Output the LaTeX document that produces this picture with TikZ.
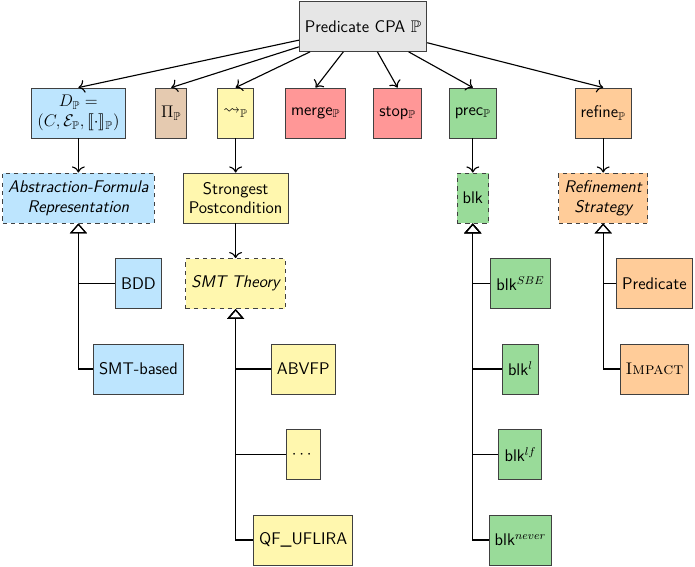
\documentclass[tikz,border=0pt]{standalone}
\usepackage{amsmath,amssymb,stmaryrd}
\usepackage{xcolor}
\usetikzlibrary{arrows.meta}

\definecolor{cpagray}{HTML}{E6E6E6}
\definecolor{domblue}{HTML}{BDE5FE}
\definecolor{pibrown}{HTML}{E5CAB0}
\definecolor{transyellow}{HTML}{FFF7AE}
\definecolor{opred}{HTML}{FF9797}
\definecolor{precgreen}{HTML}{99DB99}
\definecolor{reforange}{HTML}{FFCC99}

\begin{document}
\begin{tikzpicture}[>={To[scale=1.3]},every node/.style={font=\sffamily\large},
    box/.style={draw=black!75,line width=0.6pt,minimum height=1.25cm,inner xsep=4pt,align=center},
    abstr/.style={box,dashed},
    isa/.style={thick,-{Triangle[open,width=12pt,length=7pt]}}]
    \useasboundingbox (0,0) rectangle (17.375,-14.175);
    \node[box,fill=cpagray] (cpa) at (9.075,-0.66) {Predicate CPA $\mathbb{P}$};
    % operators of the CPA
    \node[box,fill=domblue] (dom) at (1.96,-2.825) {$D_{\mathbb{P}} =$\\$(C,\mathcal{E}_{\mathbb{P}},\llbracket\cdot\rrbracket_{\mathbb{P}})$};
    \node[box,fill=pibrown] (pi) at (4.28,-2.825) {$\Pi_{\mathbb{P}}$};
    \node[box,fill=transyellow] (trans) at (5.89,-2.825) {$\rightsquigarrow_{\mathbb{P}}$};
    \node[box,fill=opred] (merge) at (7.89,-2.825) {merge$_{\mathbb{P}}$};
    \node[box,fill=opred] (stop) at (9.94,-2.825) {stop$_{\mathbb{P}}$};
    \node[box,fill=precgreen] (prec) at (11.82,-2.825) {prec$_{\mathbb{P}}$};
    \node[box,fill=reforange] (refine) at (15.08,-2.825) {refine$_{\mathbb{P}}$};
    \foreach \op in {dom,pi,trans,merge,stop,prec,refine}
      \draw[thick,->] (cpa) -- (\op.north);
    % second level
    \node[abstr,fill=domblue] (absrep) at (1.96,-4.95) {\itshape Abstraction-Formula\\\itshape Representation};
    \node[box,fill=transyellow] (sp) at (5.89,-4.95) {Strongest\\Postcondition};
    \node[abstr,fill=precgreen] (blk) at (11.82,-4.95) {blk};
    \node[abstr,fill=reforange] (strat) at (15.08,-4.95) {\itshape Refinement\\\itshape Strategy};
    \draw[thick,->] (dom) -- (absrep);
    \draw[thick,->] (trans) -- (sp);
    \draw[thick,->] (prec) -- (blk);
    \draw[thick,->] (refine) -- (strat);
    \node[abstr,fill=transyellow] (theory) at (5.89,-7.09) {\itshape SMT Theory};
    \draw[thick,->] (sp) -- (theory);
    % implementations
    \node[box,fill=domblue] (bdd) at (3.46,-7.09) {BDD};
    \node[box,fill=domblue] (smtbased) at (3.46,-9.225) {SMT-based};
    \node[box,fill=transyellow] (abvfp) at (7.58,-9.225) {ABVFP};
    \node[box,fill=transyellow] (more) at (7.58,-11.36) {$\cdots$};
    \node[box,fill=transyellow] (uflira) at (7.58,-13.5) {QF\_UFLIRA};
    \node[box,fill=precgreen] (sbe) at (13.01,-7.09) {blk$^{SBE}$};
    \node[box,fill=precgreen] (blkl) at (13.01,-9.225) {blk$^{l}$};
    \node[box,fill=precgreen] (blklf) at (13.01,-11.36) {blk$^{lf}$};
    \node[box,fill=precgreen] (never) at (13.01,-13.5) {blk$^{never}$};
    \node[box,fill=reforange] (pred) at (16.36,-7.09) {Predicate};
    \node[box,fill=reforange] (impact) at (16.36,-9.225) {\rmfamily\textsc{Impact}};
    \foreach \impl in {bdd,smtbased}
      \draw[isa] (\impl.west) -| (absrep.south);
    \foreach \impl in {abvfp,more,uflira}
      \draw[isa] (\impl.west) -| (theory.south);
    \foreach \impl in {sbe,blkl,blklf,never}
      \draw[isa] (\impl.west) -| (blk.south);
    \foreach \impl in {pred,impact}
      \draw[isa] (\impl.west) -| (strat.south);
  \end{tikzpicture}
\end{document}
